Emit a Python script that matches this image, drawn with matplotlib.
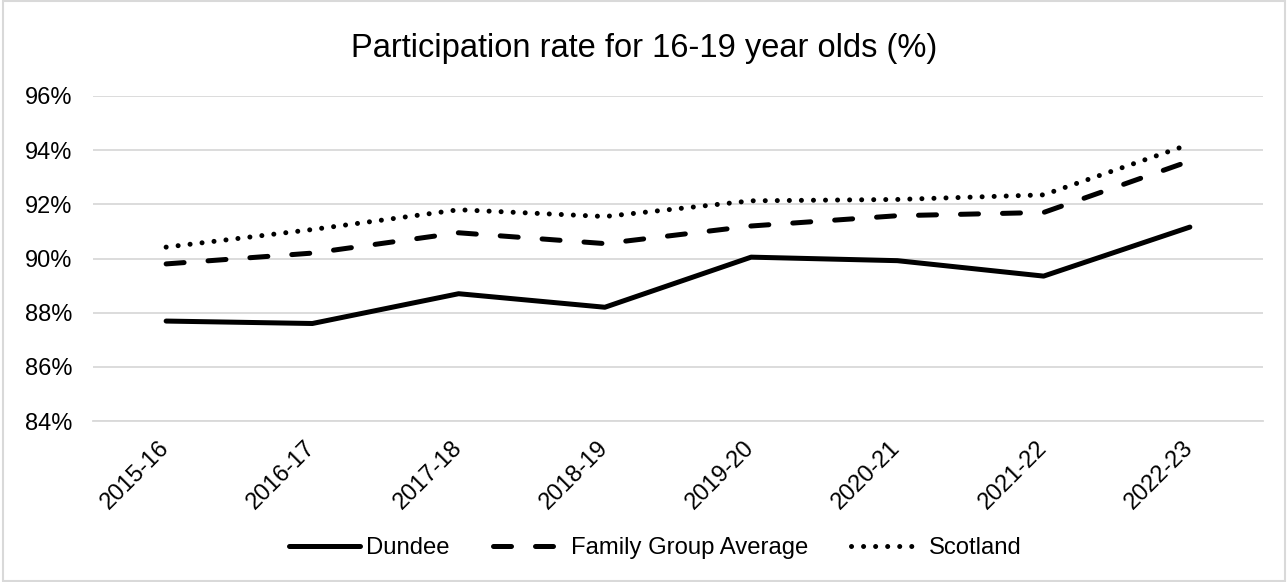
import matplotlib
matplotlib.use("Agg")
import matplotlib.pyplot as plt
import matplotlib.transforms as mtransforms
from matplotlib.ticker import FuncFormatter, MultipleLocator

plt.rcParams['font.family'] = ['Liberation Sans', 'DejaVu Sans']

years = ["2015-16", "2016-17", "2017-18", "2018-19", "2019-20", "2020-21", "2021-22", "2022-23"]
dundee = [87.69, 87.6, 88.7, 88.2, 90.05, 89.92, 89.35, 91.16]
family = [89.8, 90.2, 90.95, 90.55, 91.2, 91.58, 91.7, 93.6]
scotland = [90.42, 91.07, 91.8, 91.55, 92.13, 92.18, 92.35, 94.22]

fig = plt.figure(figsize=(12.88, 5.82), dpi=100)
ax = fig.add_axes([93/1288, 1-421/582, 1170/1288, 325/582])

x = range(len(years))
lw = 3.6
ax.plot(x, dundee, color='black', lw=lw, solid_capstyle='round', solid_joinstyle='round', label='Dundee')
ax.plot(x, family, color='black', lw=lw, linestyle=(0, (3.6, 4.8)), dash_capstyle='round', label='Family Group Average')
ax.plot(x, scotland, color='black', lw=lw, linestyle=(0, (0.01, 2.4)), dash_capstyle='round', label='Scotland')

ax.set_ylim(84, 96)
ax.set_xlim(-0.5, 7.5)
ax.yaxis.set_major_locator(MultipleLocator(2))
ax.yaxis.set_major_formatter(FuncFormatter(lambda v, p: f"{v:.0f}%"))
ax.grid(axis='y', color='#d9d9d9', lw=1.3)
ax.set_axisbelow(True)
for s in ['top', 'right', 'left']:
    ax.spines[s].set_visible(False)
ax.spines['bottom'].set_color('#d9d9d9')
ax.spines['bottom'].set_linewidth(1.3)
ax.tick_params(axis='both', length=0, labelsize=17, colors='#000000')
ax.tick_params(axis='y', pad=15)
ax.tick_params(axis='x', pad=8)
ax.set_xticks(list(x))
ax.set_xticklabels(years, rotation=45, ha='right', rotation_mode='anchor')
offset = mtransforms.ScaledTranslation(-8/100, -5/100, fig.dpi_scale_trans)
for lab in ax.get_xticklabels():
    lab.set_transform(lab.get_transform() + offset)

fig.text(0.5, 1-48/582, "Participation rate for 16-19 year olds (%)", ha='center', va='center', fontsize=23.5)

fig.legend(loc='center', bbox_to_anchor=(0.5 + 11/1288, 1-548/582), ncol=3, frameon=False, fontsize=17.2,
           handlelength=3.0, columnspacing=1.8, handletextpad=0.25)

border = plt.Rectangle((0.002, 0.002), 0.996, 0.996, transform=fig.transFigure, fill=False, edgecolor='#d9d9d9', lw=1.5)
fig.patches.append(border)

fig.savefig("out.png", dpi=100)
